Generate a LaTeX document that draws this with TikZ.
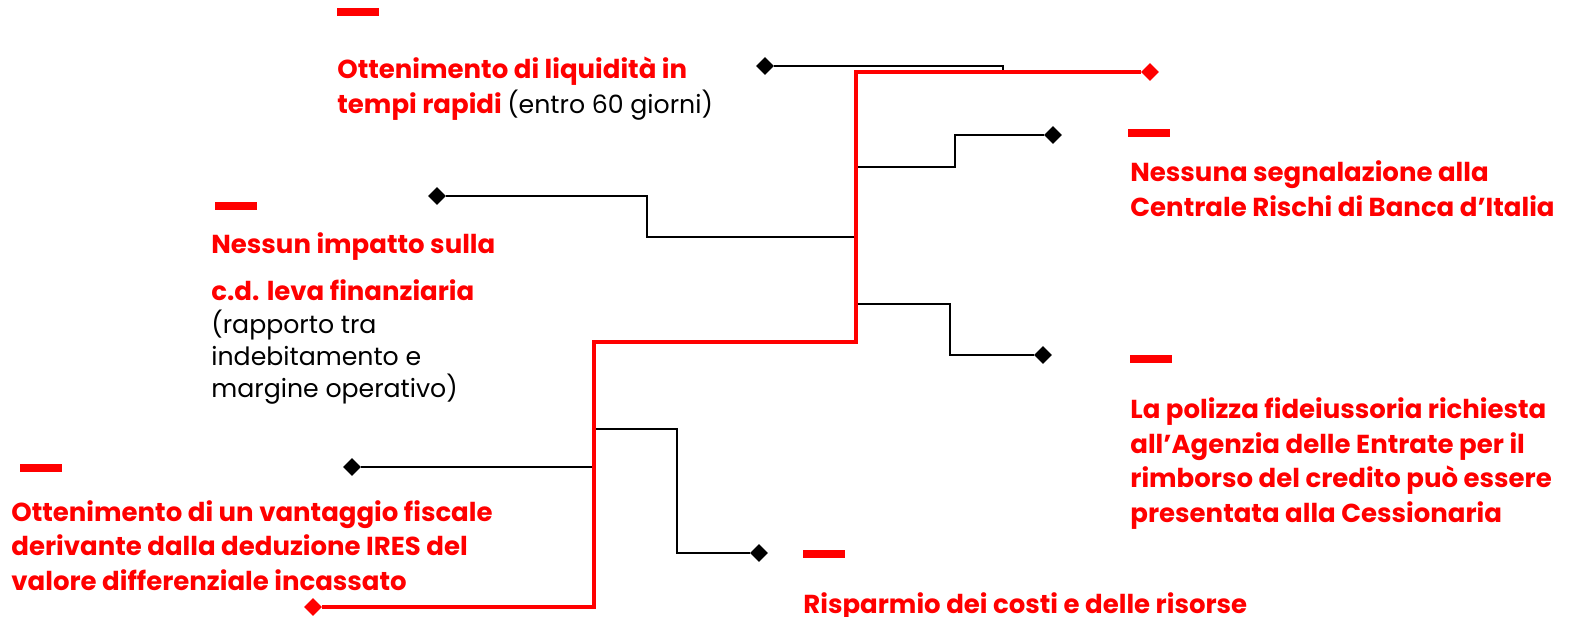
\documentclass[tikz,border=0pt]{standalone}
\usepackage{fontspec}
\setmainfont{Poppins}
\usetikzlibrary{shapes.geometric,calc}

\tikzset{
	spine/.style={red, line width=1.8pt},
	branch/.style={black, line width=1pt},
	tip/.style={diamond, fill=black, inner sep=0pt, minimum size=9pt},
	redtip/.style={tip, fill=red},
	bar/.style={fill=red, inner sep=0pt, minimum width=21pt, minimum height=4pt},
	lbl/.style={anchor=base west, align=left, inner sep=0pt, text=red, font=\bfseries\fontsize{13}{17.2}\selectfont},
	note/.style={anchor=base west, align=left, inner sep=0pt, text=black, font=\fontsize{12.6}{16}\selectfont},
}

\begin{document}
\begin{tikzpicture}[x=0.5pt, y=-0.5pt]
	\useasboundingbox (0,0) rectangle (1569,616);

	% ends of the branches
	\node[tip] (dLiq) at (765,66) {};
	\node[tip] (dImp) at (437,196) {};
	\node[tip] (dSeg) at (1053,135) {};
	\node[tip] (dPol) at (1043,355) {};
	\node[tip] (dFis) at (352,467) {};
	\node[tip] (dRis) at (759,553) {};
	\node[redtip] (rStart) at (313,607) {};
	\node[redtip] (rEnd) at (1150,72) {};

	% points on the red line
	\coordinate (k1) at (594,342);
	\coordinate (k2) at (856,72);
	\coordinate (j1) at (1003,72);
	\coordinate (j2) at (856,167);
	\coordinate (j3) at (856,237);
	\coordinate (j4) at (856,304);
	\coordinate (j5) at (594,474);
	\coordinate (j6) at (594,429);

	\foreach \a / \b in {dLiq/j1, dFis/j5}
	{
		\draw[branch] (\a) -| (\b);
	};
	\foreach \a / \b in {
	j2/dSeg,
	dImp/j3,
	j4/dPol,
	j6/dRis}
	{
		\draw[branch] (\a) -| ($(\a)!.5!(\b)$) |- (\b);
	};

	\draw[spine] (rStart) -| (k1) -| (k2) -- (rEnd);

	% red marks over the texts
	\node[bar] (bLiq) at (358,12) {};
	\node[bar] (bImp) at (236,205.5) {};
	\node[bar] (bFis) at (41,467.5) {};
	\node[bar] (bSeg) at (1149,132.5) {};
	\node[bar] (bPol) at (1151,358.5) {};
	\node[bar] (bRis) at (824,553.5) {};

	% texts, placed by the baseline of their last line
	\node[lbl] (tLiq) at (337,113) {Ottenimento di liquidità in\\tempi rapidi {\mdseries\fontsize{12.6}{17.2}\selectfont\color{black}(entro 60 giorni)}};
	\node[lbl] (tImp) at (211,300) {Nessun impatto sulla\\[6pt]c.d. leva finanziaria};
	\node[note] (tImpB) at (211,397) {(rapporto tra\\indebitamento e\\margine operativo)};
	\node[lbl] (tFis) at (11,590) {Ottenimento di un vantaggio fiscale\\derivante dalla deduzione IRES del\\valore differenziale incassato};
	\node[lbl] (tSeg) at (1130,216) {Nessuna segnalazione alla\\Centrale Rischi di Banca d’Italia};
	\node[lbl] (tPol) at (1130,522) {La polizza fideiussoria richiesta\\all’Agenzia delle Entrate per il\\rimborso del credito può essere\\presentata alla Cessionaria};
	\node[lbl] (tRis) at (803,613) {Risparmio dei costi e delle risorse};
\end{tikzpicture}
\end{document}
